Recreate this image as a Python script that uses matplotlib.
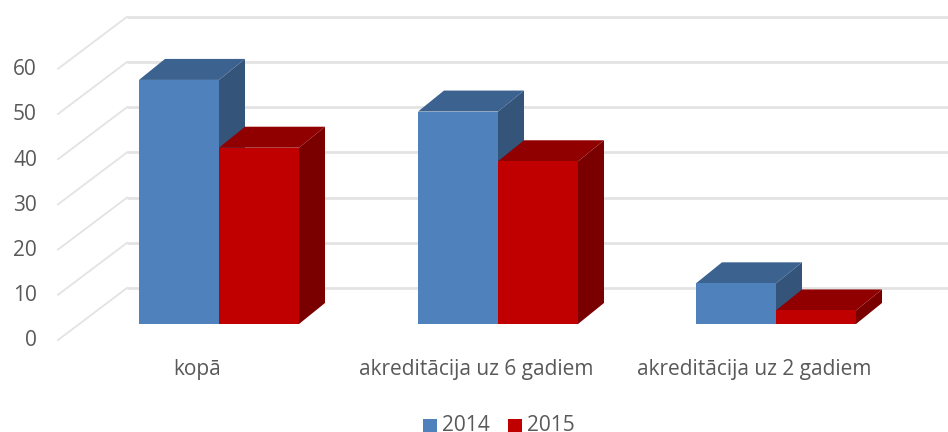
#3D style clustered column chart, recreated with plain matplotlib
import matplotlib
matplotlib.use('Agg')
import matplotlib.pyplot as plt
from matplotlib.patches import Polygon, Rectangle

plt.rcParams['font.family'] = ['Open Sans', 'DejaVu Sans']

categories = ['kopā', 'akreditācija uz 6 gadiem', 'akreditācija uz 2 gadiem']
series_names = ['2014', '2015']
values_2014 = [54, 47, 9]
values_2015 = [39, 36, 3]
y_ticks = [0, 10, 20, 30, 40, 50, 60]

fig = plt.figure(figsize=(9.48, 4.32), dpi=100)
ax = fig.add_axes([0, 0, 1, 1])
ax.set_xlim(0, 948)
ax.set_ylim(432, 0)
ax.axis('off')

# pixel layout of the fake 3d box
y0 = 324
unit = 4.52
dx, dy = 26, 21      # depth of the bars
wall_x, wall_y0 = 127, 288
front_x, front_y0 = 58, 340
text_color = '#595959'
grid_color = '#e3e3e3'

def py(v):
    return y0 - v * unit

# gridlines: along the back wall and down the side wall
for t in y_ticks:
    yw = wall_y0 - t * unit
    yf = front_y0 - t * unit
    ax.plot([wall_x, 948], [yw, yw], color=grid_color, lw=2, zorder=1, solid_capstyle='butt')
    ax.plot([wall_x, front_x], [yw, yf], color=grid_color, lw=1.3, zorder=1)
    ax.text(37, yf + 1, str(t), ha='right', va='center', fontsize=15, color=text_color)

def bar3d(x, w, v, front, top, side):
    t = py(v)
    ax.add_patch(Polygon([[x + w, y0], [x + w + dx, y0 - dy], [x + w + dx, t - dy], [x + w, t]], color=side, lw=0, zorder=3))
    ax.add_patch(Polygon([[x, t], [x + dx, t - dy], [x + w + dx, t - dy], [x + w, t]], color=top, lw=0, zorder=3))
    ax.add_patch(Rectangle((x, t), w, y0 - t, color=front, lw=0, zorder=3))

starts = [139, 418, 696]
bar_w = 80
for i in range(len(categories)):
    bar3d(starts[i], bar_w, values_2014[i], '#4f81bd', '#3c6290', '#34547a')
    bar3d(starts[i] + bar_w, bar_w, values_2015[i], '#c00000', '#900000', '#7a0000')
    ax.text(starts[i] + 58, 369, categories[i], ha='center', va='center', fontsize=15, color=text_color)

# legend sits right at the bottom edge
ax.add_patch(Rectangle((423, 419), 14, 13, color='#4f81bd', lw=0))
ax.text(442, 431, series_names[0], va='baseline', fontsize=15, color=text_color)
ax.add_patch(Rectangle((508, 419), 14, 13, color='#c00000', lw=0))
ax.text(527, 431, series_names[1], va='baseline', fontsize=15, color=text_color)

fig.savefig('out.png', dpi=100)
